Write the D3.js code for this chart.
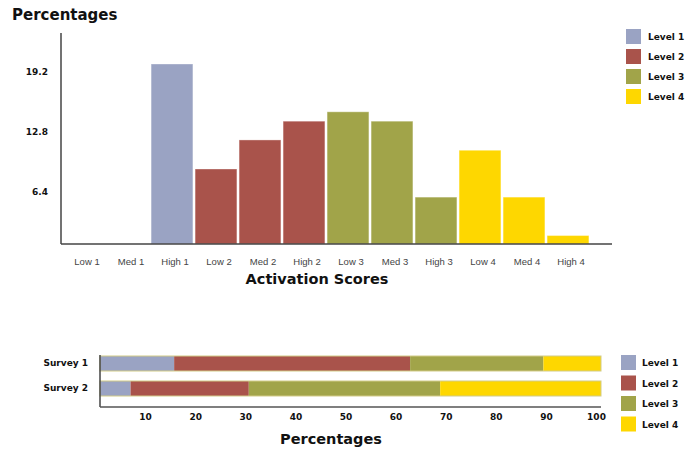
<!DOCTYPE html>
<html>
<head>
<meta charset="utf-8">
<script src="https://cdn.jsdelivr.net/npm/d3@7"></script>
<style>
  html, body { margin: 0; padding: 0; background: #fff; }
  svg { display: block; }
</style>
</head>
<body>
<svg id="chart" width="686" height="453"></svg>
<script>
// Activation score distribution (percent of respondents per score band)
const categories = ["Low 1", "Med 1", "High 1", "Low 2", "Med 2", "High 2",
                    "Low 3", "Med 3", "High 3", "Low 4", "Med 4", "High 4"];
const categoryLevel = [1, 1, 1, 2, 2, 2, 3, 3, 3, 4, 4, 4];
const percentValues = [0, 0, 19.2, 8.0, 11.1, 13.1, 14.1, 13.1, 5.0, 10.0, 5.0, 0.9];
const yTicks = [6.4, 12.8, 19.2];

// Level shares per survey (stacked to 100%)
const levels = ["Level 1", "Level 2", "Level 3", "Level 4"];
const surveys = ["Survey 1", "Survey 2"];
const surveyShares = [
  [14.8, 47.1, 26.6, 11.5],
  [6.1, 23.6, 38.2, 32.1]
];
const xTicks = [10, 20, 30, 40, 50, 60, 70, 80, 90, 100];

const levelColors = ["#9aa3c3", "#a9534b", "#a1a449", "#fed700"];
const color = d3.scaleOrdinal().domain([1, 2, 3, 4]).range(levelColors);

const svg = d3.select("#chart");
const boldFont = "'DejaVu Sans', Verdana, sans-serif";
const plainFont = "'Liberation Sans', Arial, sans-serif";

// ---------- Column chart ----------
const x = d3.scaleBand().domain(categories).range([62, 590])
  .paddingInner(0.05).paddingOuter(0.025);
const y = d3.scaleLinear().domain([0, 22.4]).range([244, 34]);

svg.append("text")
  .attr("x", 12).attr("y", 19.5)
  .attr("font-family", boldFont).attr("font-weight", "bold")
  .attr("font-size", 15).attr("fill", "#111")
  .text("Percentages");

const cols = categories.map((c, i) => ({ c, v: percentValues[i], lvl: categoryLevel[i] }));

svg.append("g").selectAll("rect").data(cols.filter(d => d.v > 0)).join("rect")
  .attr("x", d => x(d.c))
  .attr("y", d => y(d.v))
  .attr("width", x.bandwidth())
  .attr("height", d => y(0) - y(d.v))
  .attr("fill", d => color(d.lvl))
  .attr("stroke", "#ffffff").attr("stroke-opacity", 0.35).attr("stroke-width", 1);

// y axis: line plus bold tick labels, no tick marks
const yAxis = svg.append("g").attr("transform", "translate(61,0)")
  .call(d3.axisLeft(y).tickValues(yTicks).tickSize(0).tickPadding(13).tickFormat(d3.format(".1f")));
yAxis.select(".domain").attr("stroke", "#444").attr("stroke-width", 1.5)
  .attr("d", `M0,${y.range()[1] - 1}V${y(0)}`);
yAxis.selectAll("text")
  .attr("font-family", boldFont).attr("font-weight", "bold")
  .attr("font-size", 9).attr("fill", "#111").attr("dy", 10);

// x axis
const xAxis = svg.append("g").attr("transform", `translate(0,${y(0)})`)
  .call(d3.axisBottom(x).tickSize(0).tickPadding(14));
xAxis.select(".domain").attr("stroke", "#444").attr("stroke-width", 1.5)
  .attr("d", "M61,0H612");
xAxis.selectAll("text")
  .attr("font-family", plainFont).attr("font-size", 9.5)
  .attr("fill", "#444").attr("dx", 3);

svg.append("text")
  .attr("x", 317).attr("y", 283.5).attr("text-anchor", "middle")
  .attr("font-family", boldFont).attr("font-weight", "bold")
  .attr("font-size", 14.5).attr("fill", "#111")
  .text("Activation Scores");

// legend (top)
const legTop = svg.append("g").selectAll("g").data(levels).join("g")
  .attr("transform", (d, i) => `translate(626,${29 + i * 20})`);
legTop.append("rect").attr("width", 15).attr("height", 15)
  .attr("fill", (d, i) => levelColors[i]);
legTop.append("text").attr("x", 22).attr("y", 11)
  .attr("font-family", boldFont).attr("font-weight", "bold")
  .attr("font-size", 9).attr("fill", "#111").text(d => d);

// ---------- Stacked survey bars ----------
const xs = d3.scaleLinear().domain([0, 100]).range([100, 601]);
const ys = d3.scaleBand().domain(surveys).range([351, 401])
  .paddingInner(0.4).paddingOuter(0.2);

const rows = surveys.map((s, i) => {
  let acc = 0;
  return {
    s,
    segs: surveyShares[i].map((v, j) => { const seg = { x0: acc, x1: acc + v, lvl: j + 1 }; acc += v; return seg; })
  };
});

const rowG = svg.append("g").selectAll("g").data(rows).join("g")
  .attr("transform", d => `translate(0,${ys(d.s)})`);
rowG.selectAll("rect.seg").data(d => d.segs).join("rect").attr("class", "seg")
  .attr("x", d => xs(d.x0)).attr("width", d => xs(d.x1) - xs(d.x0))
  .attr("y", 0).attr("height", ys.bandwidth())
  .attr("fill", d => color(d.lvl));
rowG.append("rect")
  .attr("x", xs(0)).attr("width", xs(100) - xs(0))
  .attr("y", 0).attr("height", ys.bandwidth())
  .attr("fill", "none").attr("stroke", "#d2cb88").attr("stroke-width", 1);

const ysAxis = svg.append("g").attr("transform", `translate(${xs(0)},0)`)
  .call(d3.axisLeft(ys).tickSize(0).tickPadding(12));
ysAxis.select(".domain").attr("stroke", "#444").attr("stroke-width", 1.5)
  .attr("d", "M0,355V407");
ysAxis.selectAll("text")
  .attr("font-family", boldFont).attr("font-weight", "bold")
  .attr("font-size", 9).attr("fill", "#111");

const xsAxis = svg.append("g").attr("transform", "translate(0,407)")
  .call(d3.axisBottom(xs).tickValues(xTicks).tickSize(0).tickPadding(7));
xsAxis.select(".domain").attr("stroke", "#555").attr("stroke-width", 1.5)
  .attr("d", `M${xs(0)},0H${xs(100)}`);
xsAxis.selectAll("text")
  .attr("font-family", boldFont).attr("font-weight", "bold")
  .attr("font-size", 9).attr("fill", "#111").attr("dx", -5);

svg.append("text")
  .attr("x", 331).attr("y", 443.5).attr("text-anchor", "middle")
  .attr("font-family", boldFont).attr("font-weight", "bold")
  .attr("font-size", 14.5).attr("fill", "#111")
  .text("Percentages");

// legend (bottom)
const legBot = svg.append("g").selectAll("g").data(levels).join("g")
  .attr("transform", (d, i) => `translate(621,${355 + i * 20.5})`);
legBot.append("rect").attr("width", 15).attr("height", 15)
  .attr("fill", (d, i) => levelColors[i]);
legBot.append("text").attr("x", 21).attr("y", 11)
  .attr("font-family", boldFont).attr("font-weight", "bold")
  .attr("font-size", 9).attr("fill", "#111").text(d => d);
</script>
</body>
</html>
